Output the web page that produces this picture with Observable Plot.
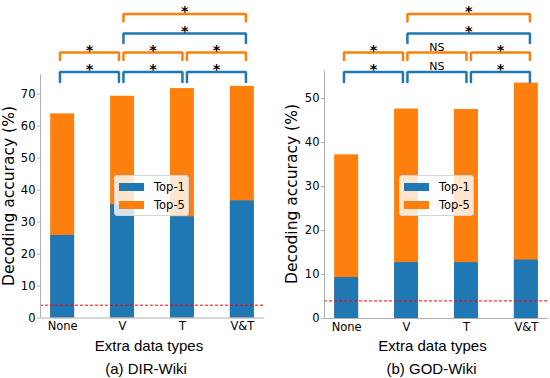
<!DOCTYPE html>
<html><head><meta charset="utf-8">
<script src="https://cdn.jsdelivr.net/npm/d3@7"></script>
<script src="https://cdn.jsdelivr.net/npm/@observablehq/plot@0.6"></script>
<style>
body{margin:0;background:#fff;}
#root{position:relative;width:550px;height:378px;overflow:hidden;font-family:"DejaVu Sans";}
.panel{position:absolute;top:0;}
.ylab{position:absolute;font-family:"DejaVu Sans";font-size:15.5px;line-height:16px;white-space:nowrap;transform:translate(-50%,-50%) rotate(-90deg);color:#000;}
.xlab{position:absolute;font-family:"Liberation Sans";font-size:15px;white-space:nowrap;transform:translate(-50%,-50%);color:#000;}
.legend{position:absolute;width:75px;height:41px;box-sizing:border-box;border:1px solid #d5d5d5;border-radius:3px;background:rgba(255,255,255,0.8);font-family:"DejaVu Sans";font-size:11.5px;}
.legend .row{position:absolute;left:4px;height:14px;display:flex;align-items:center;}
.legend .sw{width:25px;height:8px;margin-right:10px;}
</style>
</head><body>
<div id="root"></div>
<script>
const categories = ["None", "V", "T", "V&T"];
const dirTop1 = [25.8, 35.4, 31.6, 36.6];
const dirTop5 = [63.8, 69.3, 71.7, 72.4];
const godTop1 = [9.3, 12.7, 12.7, 13.3];
const godTop5 = [37.2, 47.6, 47.5, 53.5];
const chanceLevel = 4;
const pairs = [[0, 1], [1, 2], [2, 3], [1, 3]];
const dirSigTop1 = ["*", "*", "*", "*"];
const dirSigTop5 = ["*", "*", "*", "*"];
const godSigTop1 = ["*", "NS", "*", "*"];
const godSigTop5 = ["*", "NS", "*", "*"];
const dirTicks = [0, 10, 20, 30, 40, 50, 60, 70];
const godTicks = [0, 10, 20, 30, 40, 50];
const seriesNames = ["Top-1", "Top-5"];

const BLUE = "#1f77b4", ORANGE = "#ff7f0e";
const root = document.getElementById("root");

function panel({left, top1, top5, sig1, sig5, ticks, zeroPx, pxPerUnit, marginLeft, marginRight, ylab, ylabX, xlabX, capX, caption, legLeft}) {
  const H = 340;
  const ytop = zeroPx / pxPerUnit;
  const ymax = Math.max(...top5) * 1.05;
  const xlo = -0.37, xhi = 3.37;
  const pxToVal = px => ytop * (1 - px / zeroPx);
  const bars = categories.map((c, i) => ({i, top1: top1[i], top5: top5[i]}));
  const levels = [
    {idx: [0, 1, 2], sig: sig1, color: BLUE, px: 71.5, leg: 10},
    {idx: [0, 1, 2], sig: sig5, color: ORANGE, px: 52, leg: 7.5},
    {idx: [3], sig: sig1, color: BLUE, px: 33, leg: 9.5},
    {idx: [3], sig: sig5, color: ORANGE, px: 13.5, leg: 7.5}
  ];
  const pts = {[BLUE]: [], [ORANGE]: []};
  const labels = [];
  levels.forEach((L, li) => {
    L.idx.forEach(k => {
      const [a, b] = pairs[k];
      const x1 = 1.06 * a - 0.045, x2 = 1.06 * b - 0.12;
      const yl = pxToVal(L.px), yb = pxToVal(L.px + L.leg);
      const id = li + "-" + k;
      pts[L.color].push({id, x: x1, y: yb}, {id, x: x1, y: yl}, {id, x: x2, y: yl}, {id, x: x2, y: yb});
      labels.push({x: (x1 + x2) / 2, y: yl, text: L.sig[k]});
    });
  });
  const plot = Plot.plot({
    width: 275, height: H,
    marginLeft, marginRight, marginTop: 0, marginBottom: H - zeroPx,
    style: {fontFamily: "DejaVu Sans", fontSize: "11.5px", color: "#000", background: "transparent"},
    x: {type: "linear", domain: [xlo, xhi]},
    y: {domain: [0, ytop]},
    marks: [
      Plot.rectY(bars, {x1: d => d.i - 0.2, x2: d => d.i + 0.2, y1: 0, y2: "top5", fill: ORANGE}),
      Plot.rectY(bars, {x1: d => d.i - 0.2, x2: d => d.i + 0.2, y1: 0, y2: "top1", fill: BLUE}),
      Plot.ruleY([chanceLevel], {x1: xlo, x2: xhi, stroke: "red", strokeWidth: 1, strokeDasharray: "3,2"}),
      Plot.ruleX([xlo], {y1: 0, y2: ymax, stroke: "#b0b0b0", strokeWidth: 1}),
      Plot.ruleY([0], {x1: xlo, x2: xhi, stroke: "#b0b0b0", strokeWidth: 1}),
      Plot.axisY({ticks, tickSize: 3, tickPadding: 2, label: null, stroke: "#b0b0b0", fontSize: 11.5}),
      Plot.axisX({ticks: [0, 1, 2, 3], tickFormat: i => categories[i], tickSize: 0, tickPadding: 4, label: null, fontSize: 11.5}),
      Plot.line(pts[BLUE], {x: "x", y: "y", z: "id", stroke: BLUE, strokeWidth: 2.5, strokeLinejoin: "miter", curve: "linear"}),
      Plot.line(pts[ORANGE], {x: "x", y: "y", z: "id", stroke: ORANGE, strokeWidth: 2.5, strokeLinejoin: "miter", curve: "linear"}),
      Plot.text(labels.filter(d => d.text === "*"), {x: "x", y: "y", text: "text", fontSize: 14.5, fontWeight: "bold", lineAnchor: "bottom", dy: 2, fill: "#000"}),
      Plot.text(labels.filter(d => d.text !== "*"), {x: "x", y: "y", text: "text", fontSize: 11, lineAnchor: "bottom", dy: -2, fill: "#000"})
    ]
  });
  plot.classList.add("panel");
  plot.style.left = left + "px";
  root.appendChild(plot);

  const yl = document.createElement("div");
  yl.className = "ylab"; yl.textContent = ylab;
  yl.style.left = (left + ylabX) + "px";
  yl.style.top = ((zeroPx + (zeroPx - ymax * pxPerUnit)) / 2) + "px";
  root.appendChild(yl);

  const xl = document.createElement("div");
  xl.className = "xlab"; xl.textContent = "Extra data types";
  xl.style.left = xlabX + "px"; xl.style.top = "345px";
  root.appendChild(xl);

  const cp = document.createElement("div");
  cp.className = "xlab"; cp.textContent = caption;
  cp.style.left = capX + "px"; cp.style.top = "368px";
  root.appendChild(cp);

  const lg = document.createElement("div");
  lg.className = "legend";
  lg.style.left = legLeft + "px"; lg.style.top = "175px";
  seriesNames.forEach((s, i) => {
    const r = document.createElement("div");
    r.className = "row"; r.style.top = (4 + i * 18) + "px";
    const sw = document.createElement("div");
    sw.className = "sw"; sw.style.background = i === 0 ? BLUE : ORANGE;
    const t = document.createElement("span"); t.textContent = s;
    r.appendChild(sw); r.appendChild(t); lg.appendChild(r);
  });
  root.appendChild(lg);
}

panel({left: 0, top1: dirTop1, top5: dirTop5, sig1: dirSigTop1, sig5: dirSigTop5, ticks: dirTicks,
  zeroPx: 317.5, pxPerUnit: 3.2, marginLeft: 40, marginRight: 11, ylab: "Decoding accuracy (%)", ylabX: 8.5,
  xlabX: 149, capX: 146, caption: "(a) DIR-Wiki", legLeft: 114});
panel({left: 275, top1: godTop1, top5: godTop5, sig1: godSigTop1, sig5: godSigTop5, ticks: godTicks,
  zeroPx: 318, pxPerUnit: 4.4, marginLeft: 49, marginRight: 2, ylab: "Decoding accuracy (%)", ylabX: 17,
  xlabX: 432.5, capX: 431.5, caption: "(b) GOD-Wiki", legLeft: 399});
</script>
</body></html>
